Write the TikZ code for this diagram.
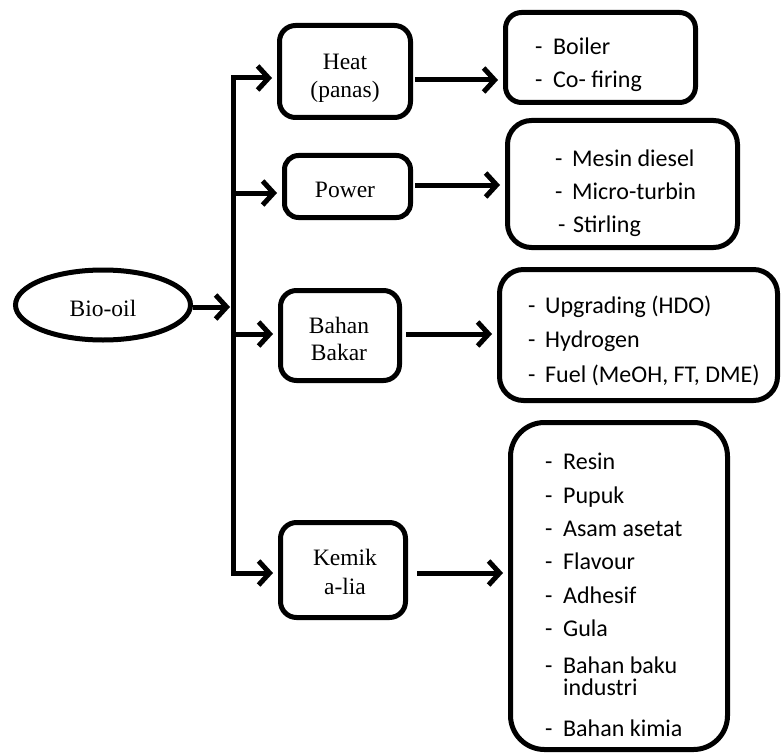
\documentclass[tikz,border=0pt]{standalone}
\usepackage{fontspec}
\setmainfont{Liberation Serif}
\newfontfamily\calfont{Carlito}
\usetikzlibrary{arrows.meta,shapes.geometric}
\begin{document}
\begin{tikzpicture}[x=1pt,y=-1pt,
  box/.style={draw,line width=5pt,rounded corners=#1,inner sep=0pt},
  box/.default=16pt,
  lab/.style={anchor=base,inner sep=0pt,font=\fontsize{23.5}{26}\selectfont},
  item/.style={anchor=base west,inner sep=0pt,font=\calfont\fontsize{24}{26}\selectfont},
  arr/.style={line width=5pt,-{Straight Barb[length=11pt,width=24pt]},shorten >=5pt},
  bus/.style={line width=5pt,line cap=rect}
]
\useasboundingbox (0,0) rectangle (783,754);

% source
\node[draw,ellipse,line width=5pt,minimum width=175pt,minimum height=70pt,inner sep=0pt] (bio) at (103,305) {};
\node[lab] (biot) at (103,316) {Bio-oil};

% middle boxes
\node[box,minimum width=131pt,minimum height=92pt] (heat) at (345,71.5) {};
\node[lab] (heat1) at (345,70) {Heat};
\node[lab] (heat2) at (345,98) {(panas)};

\node[box=14pt,minimum width=126pt,minimum height=62pt] (power) at (347.5,186.5) {};
\node[lab] (powert) at (345,197) {Power};

\node[box,minimum width=119pt,minimum height=90pt] (bahan) at (340,335.5) {};
\node[lab] (bahan1) at (339,333) {Bahan};
\node[lab] (bahan2) at (339,360) {Bakar};

\node[box,minimum width=125pt,minimum height=95pt] (kemik) at (343,570) {};
\node[lab] (kemik1) at (345,565) {Kemik};
\node[lab] (kemik2) at (345,594) {a-lia};

% output boxes
\node[box,minimum width=190pt,minimum height=90pt] (o1) at (600.5,57.5) {};
\node[item] (o1a) at (535,55) {\makebox[18pt][l]{-}Boiler};
\node[item] (o1b) at (535,88) {\makebox[18pt][l]{-}Co- firing};

\node[box=24pt,minimum width=230pt,minimum height=127pt] (o2) at (622.5,184) {};
\node[item] (o2a) at (555,166) {\makebox[17pt][l]{-}Mesin diesel};
\node[item] (o2b) at (555,199) {\makebox[17pt][l]{-}Micro-turbin};
\node[item] (o2c) at (558,232) {\makebox[15pt][l]{-}Stirling};

\node[box=24pt,minimum width=278pt,minimum height=131pt] (o3) at (638.5,335) {};
\node[item] (o3a) at (528,313) {\makebox[17pt][l]{-}Upgrading (HDO)};
\node[item] (o3b) at (528,347) {\makebox[17pt][l]{-}Hydrogen};
\node[item] (o3c) at (528,382) {\makebox[17pt][l]{-}Fuel (MeOH, FT, DME)};

\node[box=34pt,minimum width=217pt,minimum height=327pt] (o4) at (619,586) {};
\node[item] (o4a) at (545,469) {\makebox[18pt][l]{-}Resin};
\node[item] (o4b) at (545,503) {\makebox[18pt][l]{-}Pupuk};
\node[item] (o4c) at (545,536) {\makebox[18pt][l]{-}Asam asetat};
\node[item] (o4d) at (545,569) {\makebox[18pt][l]{-}Flavour};
\node[item] (o4e) at (545,603) {\makebox[18pt][l]{-}Adhesif};
\node[item] (o4f) at (545,636) {\makebox[18pt][l]{-}Gula};
\node[item] (o4g) at (545,673) {\makebox[18pt][l]{-}Bahan baku};
\node[item] (o4h) at (563,695) {industri};
\node[item] (o4i) at (545,736) {\makebox[18pt][l]{-}Bahan kimia};

% bus
\coordinate (bt) at (233,78);
\coordinate (bp) at (233,193);
\coordinate (bj) at (233,307);
\coordinate (bb2) at (233,334);
\coordinate (bb) at (233,573);
\draw[bus] (bt) -- (bb);

% connectors
\draw[arr,shorten >=3pt] (bio.east |- bj) -- (bj);
\draw[arr] (bt) -- (bt -| heat.west);
\draw[arr] (bp) -- (bp -| power.west);
\draw[arr] (bb2) -- (bb2 -| bahan.west);
\draw[arr] (bb) -- (bb -| kemik.west);

\coordinate (h1) at (415,80);
\coordinate (h2) at (415,185);
\coordinate (h3) at (406,334);
\coordinate (h4) at (417,573);
\draw[arr] (h1) -- (h1 -| o1.west);
\draw[arr] (h2) -- (h2 -| o2.west);
\draw[arr] (h3) -- (h3 -| o3.west);
\draw[arr] (h4) -- (h4 -| o4.west);
\end{tikzpicture}
\end{document}
